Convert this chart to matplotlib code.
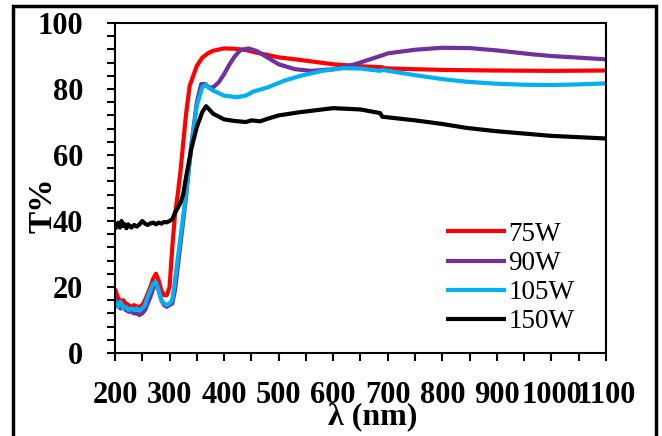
import matplotlib
matplotlib.use('Agg')
import matplotlib.pyplot as plt
from matplotlib.patches import Rectangle
from matplotlib.ticker import MultipleLocator

# 75W
wl_75 = [200, 205, 210, 215, 220, 225, 230, 235, 240, 245, 250, 255, 260, 265, 270, 275, 280, 285, 290, 295,
         300, 305, 310, 315, 320, 330, 337, 350, 360, 370, 380, 400, 420, 440, 460, 500, 540, 600, 650, 690,
         692, 750, 800, 845, 900, 1000, 1100]
t_75 = [19.5, 17, 15.5, 16, 15, 14.5, 14, 14.5, 14, 14, 14.5, 16, 18, 20, 22.5, 24, 22, 19, 17.5, 17.5,
        20, 32, 42, 48, 55, 72, 81, 87, 89.5, 90.8, 91.6, 92.3, 92.2, 91.8, 91, 89.6, 88.8, 87.5, 86.9, 86.6,
        86.3, 86, 85.8, 85.7, 85.6, 85.5, 85.6]

# 90W
wl_90 = [200, 205, 210, 215, 220, 225, 230, 235, 240, 245, 250, 255, 260, 265, 270, 275, 280, 285, 290, 295,
         300, 305, 310, 320, 330, 340, 350, 358, 365, 372, 380, 390, 400, 410, 420, 430, 445, 460, 480, 500,
         530, 560, 600, 640, 686, 690, 700, 750, 800, 850, 900, 966, 1000, 1100]
t_90 = [16.5, 14.5, 13.5, 14, 13, 12.5, 12.5, 12, 12, 11.5, 12, 13, 15, 17, 19.5, 21, 19, 16, 14.5, 14,
        14.5, 15, 19, 33, 47, 63, 76, 81.5, 81.5, 80.5, 80.5, 82, 84.5, 87.5, 90, 91.8, 92.3, 91.5, 89.5, 87.5,
        86, 85.5, 86, 87.5, 90, 90.2, 90.8, 91.9, 92.5, 92.4, 91.7, 90.5, 90, 89]

# 105W
wl_105 = [200, 205, 210, 215, 220, 225, 230, 235, 240, 245, 250, 255, 260, 265, 270, 275, 280, 285, 290, 295,
          300, 305, 310, 320, 330, 340, 350, 360, 365, 380, 400, 423, 440, 453, 480, 510, 540, 580, 618, 650,
          686, 690, 750, 800, 845, 900, 950, 1000, 1050, 1100]
t_105 = [16, 14, 15.5, 13.5, 14, 13, 13.5, 13, 13.5, 13, 13.5, 14.5, 17, 19, 21, 21.5, 19, 16, 15, 14.5,
         15, 16, 22, 35, 48, 63, 75, 80.5, 81.2, 79.5, 78, 77.5, 78, 79.2, 80.5, 82.5, 84, 85.5, 86.3, 86.2,
         85.5, 85.8, 84.2, 83, 82.2, 81.6, 81.3, 81.2, 81.4, 81.7]

# 150W
wl_150 = [200, 203, 206, 209, 212, 215, 218, 221, 224, 227, 230, 235, 240, 245, 250, 255, 260, 265, 270, 275,
          280, 285, 290, 295, 300, 305, 310, 315, 320, 325, 330, 340, 350, 360, 367, 380, 400, 420, 440, 450,
          466, 480, 500, 540, 600, 650, 686, 690, 750, 800, 845, 900, 1000, 1100]
t_150 = [37.5, 38.5, 39.5, 38, 40, 38.5, 39, 37.8, 39, 38.5, 38, 38.8, 38.3, 39, 40, 39.2, 38.8, 39.3, 39.5, 39,
         39.5, 39.2, 39.7, 39.6, 40, 40.5, 42.5, 44, 45.5, 48, 53, 62, 68.5, 73, 74.8, 72.5, 70.8, 70.3, 70, 70.5,
         70.2, 71, 72, 73, 74.2, 73.8, 72.7, 71.6, 70.5, 69.4, 68.2, 67.2, 65.8, 65]

labels = ['75W', '90W', '105W', '150W']
colors = ['#ff0000', '#7030a0', '#00b0f0', '#000000']

fig = plt.figure(figsize=(6.62, 4.36), dpi=100)
ax = fig.add_axes([0.1737, 0.1904, 0.7417, 0.7568])

for x, y, lab, c in zip([wl_75, wl_90, wl_105, wl_150], [t_75, t_90, t_105, t_150], labels, colors):
    ax.plot(x, y, color=c, lw=3, label=lab, solid_capstyle='butt')

ax.set_xlim(200, 1100)
ax.set_ylim(0, 100)
ax.xaxis.set_major_locator(MultipleLocator(100))
ax.xaxis.set_minor_locator(MultipleLocator(50))
ax.yaxis.set_major_locator(MultipleLocator(20))
ax.yaxis.set_minor_locator(MultipleLocator(4))
ax.tick_params(which='both', direction='out', length=6, width=1.5, color='black')
ax.tick_params(axis='x', which='major', pad=14)
ax.tick_params(axis='y', which='major', pad=17)
for sp in ax.spines.values():
    sp.set_linewidth(1.5)

for t in ax.get_xticklabels() + ax.get_yticklabels():
    t.set_fontfamily('Liberation Serif')
    t.set_fontweight('bold')
    t.set_fontsize(22)

ax.set_xlabel('λ (nm)', fontdict=dict(family='Liberation Serif', weight='bold', size=23))
ax.xaxis.set_label_coords(0.525, -0.148)
ax.set_ylabel('T%', fontdict=dict(family='Liberation Serif', weight='bold', size=24))
ax.yaxis.set_label_coords(-0.116, 0.448)

ax.legend(loc='upper left', bbox_to_anchor=(0.652, 0.43), frameon=False,
          prop=dict(family='Liberation Serif', size=19.5), handlelength=2.2,
          handletextpad=0.1, labelspacing=0.15, borderaxespad=0)

# outer frame of the figure
fig.patches.append(Rectangle((13 / 662, -0.1), (656 - 13) / 662, 1.1 - 6 / 436,
                             transform=fig.transFigure, fill=False, lw=2.5,
                             edgecolor='black', clip_on=False))

fig.savefig('out.png', dpi=100)
